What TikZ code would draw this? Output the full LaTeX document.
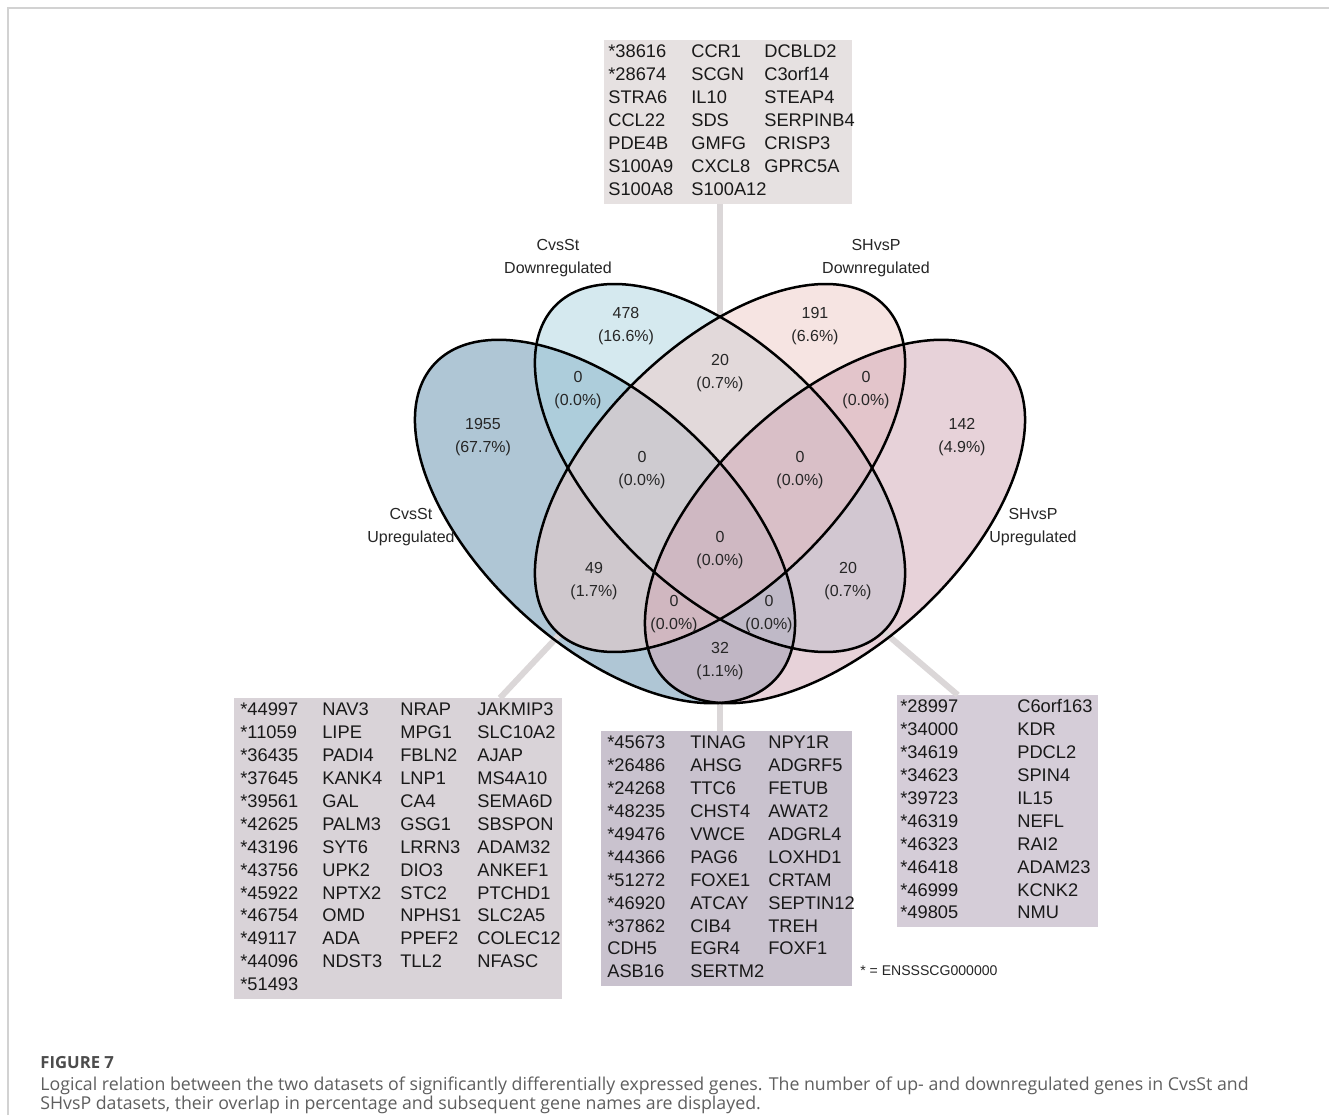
\documentclass[tikz,border=0pt]{standalone}
\usepackage{fontspec}
\setmainfont{Liberation Sans}
\newfontfamily\capfont{Open Sans}
\usepackage{array}
\usetikzlibrary{positioning}

\definecolor{upA}{RGB}{97,143,173}
\definecolor{downB}{RGB}{173,213,225}
\definecolor{downC}{RGB}{239,203,199}
\definecolor{upD}{RGB}{209,167,181}
\definecolor{boxtop}{RGB}{230,225,225}
\definecolor{boxleft}{RGB}{217,211,216}
\definecolor{boxmid}{RGB}{201,194,206}
\definecolor{boxright}{RGB}{213,205,216}
\definecolor{leadline}{RGB}{219,215,216}
\definecolor{framegray}{RGB}{210,210,210}
\definecolor{captext}{RGB}{95,95,95}
\newcommand*{\genefont}{\fontsize{10.4}{13.03}\selectfont}
\newcommand*{\cnt}[2]{#1\\(#2\%)}
\setlength{\tabcolsep}{0pt}

\begin{document}
\begin{tikzpicture}[x=0.2mm,y=0.2mm,
    venn/.style={draw=black,line width=0.5mm},
    count/.style={align=center,inner sep=0pt,font=\fontsize{9.1}{13}\selectfont,text=black!85},
    genebox/.style={anchor=north west,inner xsep=1.2mm,inner ysep=0.3mm,font=\genefont,text=black!90},
    lead/.style={draw=leadline,line width=1.2mm},
    capline/.style={anchor=base west,inner sep=0pt,font=\capfont\fontsize{10.1}{12}\selectfont,text=captext}]
  \useasboundingbox (0,0) rectangle (1329,1115);
  \fill[white] (0,0) rectangle (1329,1115);
  \draw[framegray,line width=0.4mm] (8,0) |- (1329,1107);

  % four ellipses
  \fill[upA,fill opacity=.5,rotate around={-42.7:(605,593.5)}] (605,593.5) ellipse (232.2 and 123.3);
  \fill[downB,fill opacity=.5,rotate around={-44.7:(720,647)}] (720,647) ellipse (231.2 and 121);
  \fill[downC,fill opacity=.5,rotate around={44.7:(720,647)}] (720,647) ellipse (231.2 and 121);
  \fill[upD,fill opacity=.5,rotate around={42.7:(835,593.5)}] (835,593.5) ellipse (232.2 and 123.3);

  % gene lists
  \node[genebox,fill=boxtop,inner xsep=0.8mm] (topbox) at (604,1075) {%
    \begin{tabular}{@{}p{16.6mm}p{14.6mm}p{16.8mm}@{}}
    {*}38616 & CCR1 & DCBLD2\\
    {*}28674 & SCGN & C3orf14\\
    STRA6 & IL10 & STEAP4\\
    CCL22 & SDS & SERPINB4\\
    PDE4B & GMFG & CRISP3\\
    S100A9 & CXCL8 & GPRC5A\\
    S100A8 & S100A12 &
    \end{tabular}};
  \node[genebox,fill=boxleft] (leftbox) at (234,417) {%
    \begin{tabular}{@{}p{16.4mm}p{15.6mm}p{15.4mm}p{15.8mm}@{}}
    {*}44997 & NAV3 & NRAP & JAKMIP3\\
    {*}11059 & LIPE & MPG1 & SLC10A2\\
    {*}36435 & PADI4 & FBLN2 & AJAP\\
    {*}37645 & KANK4 & LNP1 & MS4A10\\
    {*}39561 & GAL & CA4 & SEMA6D\\
    {*}42625 & PALM3 & GSG1 & SBSPON\\
    {*}43196 & SYT6 & LRRN3 & ADAM32\\
    {*}43756 & UPK2 & DIO3 & ANKEF1\\
    {*}45922 & NPTX2 & STC2 & PTCHD1\\
    {*}46754 & OMD & NPHS1 & SLC2A5\\
    {*}49117 & ADA & PPEF2 & COLEC12\\
    {*}44096 & NDST3 & TLL2 & NFASC\\
    {*}51493 & & &
    \end{tabular}};
  \node[genebox,fill=boxmid] (midbox) at (601,384) {%
    \begin{tabular}{@{}p{16.6mm}p{15.6mm}p{15.6mm}@{}}
    {*}45673 & TINAG & NPY1R\\
    {*}26486 & AHSG & ADGRF5\\
    {*}24268 & TTC6 & FETUB\\
    {*}48235 & CHST4 & AWAT2\\
    {*}49476 & VWCE & ADGRL4\\
    {*}44366 & PAG6 & LOXHD1\\
    {*}51272 & FOXE1 & CRTAM\\
    {*}46920 & ATCAY & SEPTIN12\\
    {*}37862 & CIB4 & TREH\\
    CDH5 & EGR4 & FOXF1\\
    ASB16 & SERTM2 &
    \end{tabular}};
  \node[genebox,fill=boxright,inner xsep=0.6mm] (rightbox) at (897,420) {%
    \begin{tabular}{@{}p{23.4mm}p{15.6mm}@{}}
    {*}28997 & C6orf163\\
    {*}34000 & KDR\\
    {*}34619 & PDCL2\\
    {*}34623 & SPIN4\\
    {*}39723 & IL15\\
    {*}46319 & NEFL\\
    {*}46323 & RAI2\\
    {*}46418 & ADAM23\\
    {*}46999 & KCNK2\\
    {*}49805 & NMU
    \end{tabular}};
  \node[anchor=west,inner sep=0pt,font=\fontsize{8}{10}\selectfont,text=black!85] (key) at (860,144) {* = ENSSSCG000000};

  % leader lines
  \coordinate (pBC) at (720,799);
  \coordinate (pAC) at (560,481);
  \coordinate (pAD) at (720,412);
  \coordinate (pBD) at (884,483);
  \draw[lead] (pBC) -- (pBC |- topbox.south);
  \draw[lead] (pAC) -- (leftbox.56.6);
  \draw[lead] (pAD) -- (pAD |- midbox.north);
  \draw[lead] (pBD) -- (rightbox.109);

  % outlines
  \draw[venn,rotate around={-42.7:(605,593.5)}] (605,593.5) ellipse (232.2 and 123.3);
  \draw[venn,rotate around={-44.7:(720,647)}] (720,647) ellipse (231.2 and 121);
  \draw[venn,rotate around={44.7:(720,647)}] (720,647) ellipse (231.2 and 121);
  \draw[venn,rotate around={42.7:(835,593.5)}] (835,593.5) ellipse (232.2 and 123.3);

  % set names
  \node[count] (nBdown) at (558,857) {CvsSt\\Downregulated};
  \node[count] (nCdown) at (876,857) {SHvsP\\Downregulated};
  \node[count] (nAup) at (411,588) {CvsSt\\Upregulated};
  \node[count] (nDup) at (1033,588) {SHvsP\\Upregulated};

  % counts
  \node[count] (cA) at (483,678) {\cnt{1955}{67.7}};
  \node[count] (cB) at (626,789) {\cnt{478}{16.6}};
  \node[count] (cC) at (815,789) {\cnt{191}{6.6}};
  \node[count] (cD) at (962,678) {\cnt{142}{4.9}};
  \node[count] (cAB) at (578,725) {\cnt{0}{0.0}};
  \node[count] (cBC) at (720,742) {\cnt{20}{0.7}};
  \node[count] (cCD) at (866,725) {\cnt{0}{0.0}};
  \node[count] (cABC) at (642,645) {\cnt{0}{0.0}};
  \node[count] (cBCD) at (800,645) {\cnt{0}{0.0}};
  \node[count] (cAC) at (594,534) {\cnt{49}{1.7}};
  \node[count] (cABCD) at (720,565) {\cnt{0}{0.0}};
  \node[count] (cBD) at (848,534) {\cnt{20}{0.7}};
  \node[count] (cACD) at (674,501) {\cnt{0}{0.0}};
  \node[count] (cABD) at (769,501) {\cnt{0}{0.0}};
  \node[count] (cAD) at (720,454) {\cnt{32}{1.1}};

  % caption
  \node[capline,font=\capfont\bfseries\fontsize{9.5}{11}\selectfont,text=black!70] (figno) at (40,47) {FIGURE 7};
  \node[capline] (cap1) at (40,25) {Logical relation between the two datasets of significantly differentially expressed genes. The number of up- and downregulated genes in CvsSt and};
  \node[capline,below=3.8mm of cap1.base west,anchor=base west] (cap2) {SHvsP datasets, their overlap in percentage and subsequent gene names are displayed.};
\end{tikzpicture}
\end{document}
